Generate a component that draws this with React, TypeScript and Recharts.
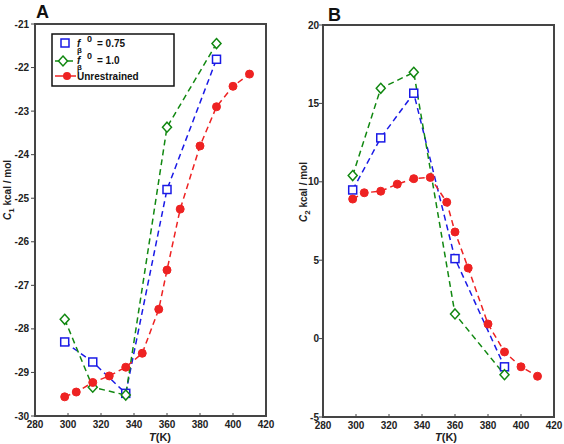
import React from "react";
import { LineChart, Line, XAxis, YAxis, ReferenceArea } from "recharts";

// temperatures (K)
const restrainedT = [298, 315, 335, 360, 390];
const unrestrainedT = [298, 305, 315, 325, 335, 345, 355, 360, 368, 380, 390, 400, 410];

// panel A: C1 (kcal/mol)
const c1Beta075 = [-28.3, -28.76, -29.48, -24.8, -21.81];
const c1Beta10 = [-27.78, -29.34, -29.52, -23.37, -21.45];
const c1Free = [-29.56, -29.45, -29.23, -29.08, -28.88, -28.56, -27.55, -26.65, -25.25, -23.8, -22.9, -22.43, -22.15];

// panel B: C2 (kcal/mol)
const c2Beta075 = [9.48, 12.8, 15.65, 5.1, -1.8];
const c2Beta10 = [10.4, 15.96, 16.98, 1.57, -2.3];
const c2Free = [8.9, 9.3, 9.4, 9.85, 10.2, 10.28, 8.7, 6.8, 4.5, 0.93, -0.85, -1.8, -2.4];

// axis ticks
const tempTicks = [280, 300, 320, 340, 360, 380, 400, 420];
const c1Ticks = [-30, -29, -28, -27, -26, -25, -24, -23, -22, -21];
const c2Ticks = [-5, 0, 5, 10, 15, 20];

const BLUE = "#1a1ae6";
const GREEN = "#118811";
const RED = "#ee2222";
const FONT = "'Liberation Sans', Arial, sans-serif";

const toPoints = (ts: number[], vs: number[]) => ts.map((T, i) => ({ T, v: vs[i] }));

const squareDot = (p: any) => (
  <rect key={`s${p.index}`} x={p.cx - 4} y={p.cy - 4} width={8} height={8} fill="#fff" stroke={BLUE} strokeWidth={1.5} />
);
const diamondDot = (p: any) => (
  <polygon
    key={`d${p.index}`}
    points={`${p.cx},${p.cy - 5} ${p.cx + 4.5},${p.cy} ${p.cx},${p.cy + 5} ${p.cx - 4.5},${p.cy}`}
    fill="#fff"
    stroke={GREEN}
    strokeWidth={1.5}
  />
);
const circleDot = (p: any) => <circle key={`c${p.index}`} cx={p.cx} cy={p.cy} r={4} fill={RED} stroke={RED} />;

type PanelProps = {
  left: number;
  width: number;
  margin: { top: number; right: number; bottom: number; left: number };
  yAxisWidth: number;
  yTickMargin: number;
  yDomain: [number, number];
  yTicks: number[];
  beta075: number[];
  beta10: number[];
  free: number[];
};

function Panel(props: PanelProps) {
  const { left, width, margin, yAxisWidth, yTickMargin, yDomain, yTicks, beta075, beta10, free } = props;
  const tick = { fill: "#222", fontSize: 10, fontWeight: "bold" as const, fontFamily: FONT };
  return (
    <div style={{ position: "absolute", left, top: 0 }}>
      <LineChart width={width} height={444} margin={margin}>
        <XAxis
          type="number"
          dataKey="T"
          domain={[280, 420]}
          ticks={tempTicks}
          height={16}
          tick={tick}
          tickSize={-3}
          tickMargin={8}
          axisLine={false}
          tickLine={{ stroke: "#444" }}
          interval={0}
        />
        <YAxis
          type="number"
          dataKey="v"
          domain={yDomain}
          ticks={yTicks}
          width={yAxisWidth}
          tick={tick}
          tickSize={4}
          tickMargin={yTickMargin}
          axisLine={false}
          tickLine={{ stroke: "#444" }}
          interval={0}
        />
        <ReferenceArea x1={280} x2={420} y1={yDomain[0]} y2={yDomain[1]} fill="none" stroke="#454545" strokeWidth={2} />
        <Line
          data={toPoints(restrainedT, beta075)}
          dataKey="v"
          stroke={BLUE}
          strokeWidth={1.5}
          strokeDasharray="6 4"
          dot={squareDot}
          isAnimationActive={false}
        />
        <Line
          data={toPoints(restrainedT, beta10)}
          dataKey="v"
          stroke={GREEN}
          strokeWidth={1.5}
          strokeDasharray="6 4"
          dot={diamondDot}
          isAnimationActive={false}
        />
        <Line
          data={toPoints(unrestrainedT, free)}
          dataKey="v"
          stroke={RED}
          strokeWidth={1.5}
          strokeDasharray="6 4"
          dot={circleDot}
          isAnimationActive={false}
        />
      </LineChart>
    </div>
  );
}

export default function App() {
  return (
    <div style={{ position: "absolute", left: 0, top: 0, width: 564, height: 444, background: "#fff", fontFamily: FONT }}>
      <Panel
        left={0}
        width={280}
        margin={{ top: 24, right: 14, bottom: 12, left: 0 }}
        yAxisWidth={35}
        yTickMargin={2}
        yDomain={[-30, -21]}
        yTicks={c1Ticks}
        beta075={c1Beta075}
        beta10={c1Beta10}
        free={c1Free}
      />
      <Panel
        left={280}
        width={284}
        margin={{ top: 25, right: 10, bottom: 11, left: 0 }}
        yAxisWidth={43}
        yTickMargin={0}
        yDomain={[-5, 20]}
        yTicks={c2Ticks}
        beta075={c2Beta075}
        beta10={c2Beta10}
        free={c2Free}
      />

      {/* panel letters, axis titles and legend */}
      <svg width={564} height={444} style={{ position: "absolute", left: 0, top: 0, pointerEvents: "none" }} fontFamily={FONT}>
        <text x={36} y={18} fontSize={18} fontWeight="bold" fill="#111">A</text>
        <text x={328} y={21} fontSize={18} fontWeight="bold" fill="#111">B</text>

        <text x={160} y={441} fontSize={11} fontWeight="bold" textAnchor="middle" fill="#222">
          <tspan fontStyle="italic">T</tspan>(K)
        </text>
        <text x={446} y={441} fontSize={11} fontWeight="bold" textAnchor="middle" fill="#222">
          <tspan fontStyle="italic">T</tspan>(K)
        </text>

        <text x={11} y={190} transform="rotate(-90 11 190)" fontSize={10} fontWeight="bold" textAnchor="middle" fill="#222">
          <tspan fontStyle="italic">C</tspan>
          <tspan dy={3} fontSize={8}>1</tspan>
          <tspan dy={-3}> kcal / mol</tspan>
        </text>
        <text x={307} y={192} transform="rotate(-90 307 192)" fontSize={10} fontWeight="bold" textAnchor="middle" fill="#222">
          <tspan fontStyle="italic">C</tspan>
          <tspan dy={3} fontSize={8}>2</tspan>
          <tspan dy={-3}> kcal / mol</tspan>
        </text>

        <rect x={52} y={34} width={122} height={52} fill="#fff" stroke="#111" strokeWidth={1.5} />
        <rect x={61} y={39} width={8} height={8} fill="#fff" stroke={BLUE} strokeWidth={1.5} />
        <text x={77} y={47} fontSize={10} fontWeight="bold" fill="#111">
          <tspan fontStyle="italic">f</tspan>
          <tspan x={77} dy={6} fontSize={8}>β</tspan>
          <tspan x={87} dy={-11} fontSize={9}>0</tspan>
          <tspan x={97} dy={5}>= 0.75</tspan>
        </text>
        <line x1={55} x2={73} y1={61} y2={61} stroke={GREEN} strokeWidth={1.5} />
        <polygon points="63,56 67.5,61 63,66 58.5,61" fill="#fff" stroke={GREEN} strokeWidth={1.5} />
        <text x={77} y={64} fontSize={10} fontWeight="bold" fill="#111">
          <tspan fontStyle="italic">f</tspan>
          <tspan x={77} dy={6} fontSize={8}>β</tspan>
          <tspan x={87} dy={-11} fontSize={9}>0</tspan>
          <tspan x={97} dy={5}>= 1.0</tspan>
        </text>
        <line x1={55} x2={76} y1={76} y2={76} stroke={RED} strokeWidth={1.5} />
        <circle cx={67} cy={76} r={4} fill={RED} />
        <text x={77} y={80} fontSize={10} fontWeight="bold" fill="#111">Unrestrained</text>
      </svg>
    </div>
  );
}
